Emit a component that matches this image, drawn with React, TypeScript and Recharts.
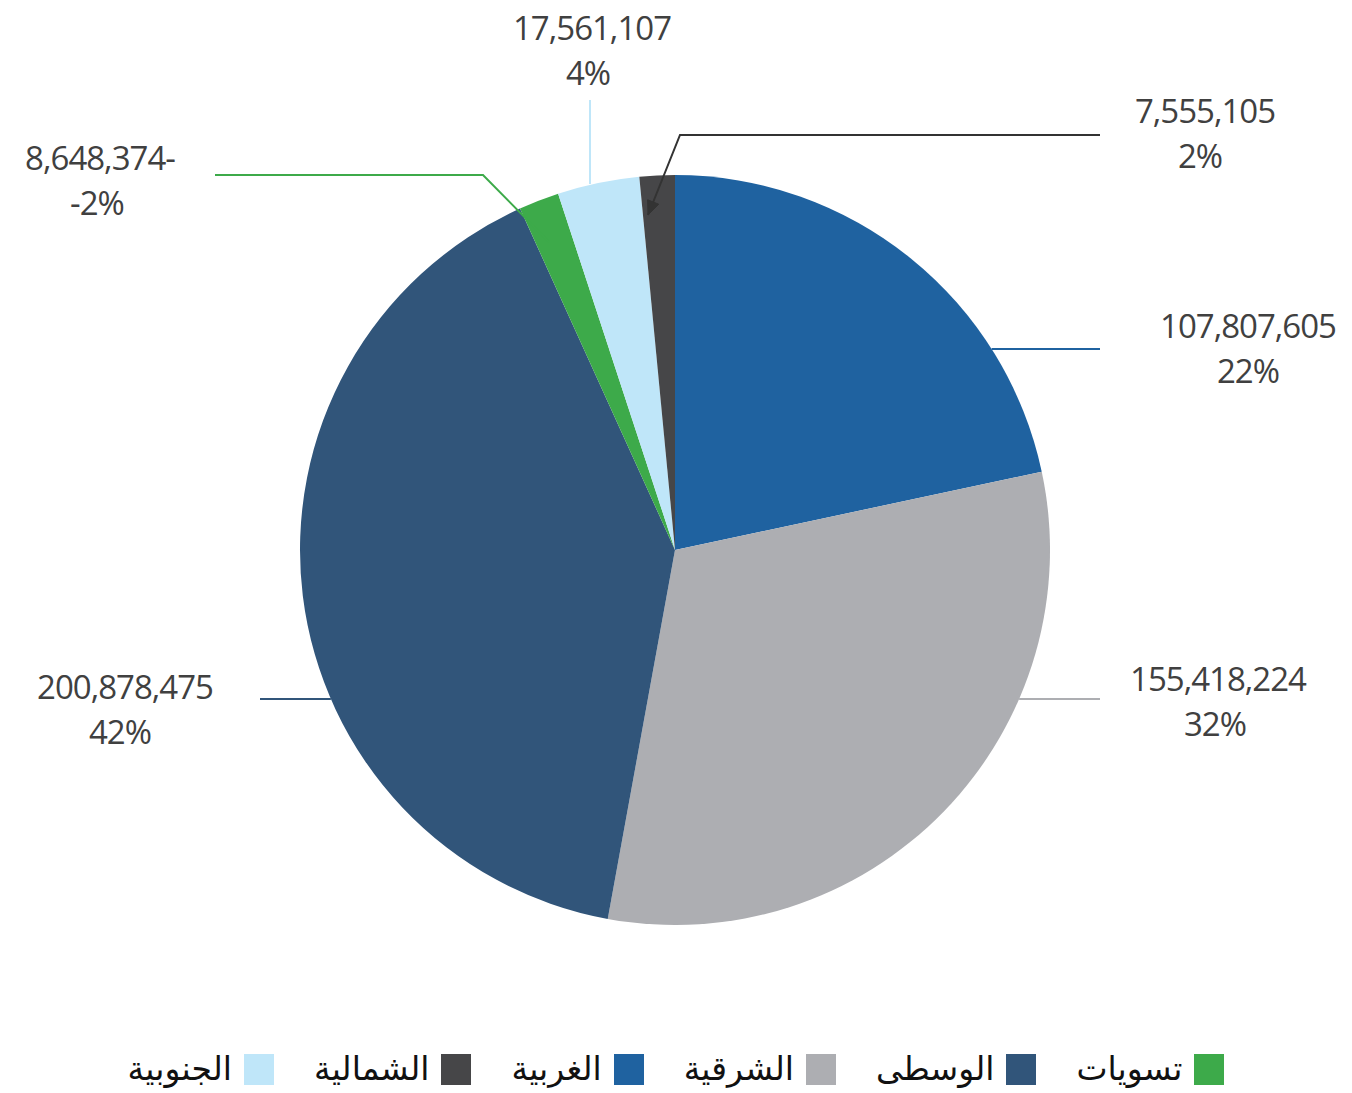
import React from "react";
import { PieChart, Pie, Cell, Legend } from "recharts";

// ---- data ----
const regions = ["الغربية", "الشرقية", "الوسطى", "تسويات", "الجنوبية", "الشمالية"];
const values = [107807605, 155418224, 200878475, -8648374, 17561107, 7555105];
const colors = ["#1F62A0", "#ADAEB2", "#31557A", "#3DAA4A", "#BFE6F9", "#464648"];
const lineColors = ["#1F62A0", "#ADAEB2", "#31557A", "#3DAA4A", "#BFE6F9", "#333333"];
const legendOrder = [3, 2, 1, 0, 5, 4];

const netTotal = values.reduce((a, b) => a + b, 0);
const data = regions.map((name, i) => ({ name, value: Math.abs(values[i]), signed: values[i] }));

// label layout relative to pie centre (style only)
type Layout = {
  edge?: { dy: number; side: 1 | -1; toX: number };
  pts?: [number, number][];
  arrow?: boolean;
  text: [number, number];
  dx2?: number;
};
const labelLayout: Layout[] = [
  { edge: { dy: -201, side: 1, toX: 425 }, text: [573, -225], dx2: 0 },
  { edge: { dy: 149, side: 1, toX: 425 }, text: [543, 128], dx2: -3 },
  { edge: { dy: 149, side: -1, toX: -415 }, text: [-550, 136], dx2: -5 },
  { pts: [[-126, -308], [-192, -375], [-460, -375]], text: [-575, -393], dx2: -3 },
  { pts: [[-85, -366], [-85, -450]], text: [-83, -523], dx2: -4 },
  { pts: [[-27, -335], [5, -415], [425, -415]], arrow: true, text: [530, -440], dx2: -5 },
];

const fmt = (v: number) => {
  const s = Math.abs(v).toLocaleString("en-US");
  return v < 0 ? s + "-" : s;
};
const pct = (v: number) => `${Math.round((v / netTotal) * 100)}%`;

const renderLabel = (props: any) => {
  const { cx, cy, outerRadius, index } = props;
  const L = labelLayout[index];
  const r = outerRadius;
  let pts: [number, number][] = [];
  if (L.edge) {
    const { dy, side, toX } = L.edge;
    const ex = side * Math.sqrt(r * r - dy * dy);
    pts = [[cx + ex, cy + dy], [cx + toX, cy + dy]];
  } else if (L.pts) {
    pts = L.pts.map(([x, y]) => [cx + x, cy + y] as [number, number]);
  }
  const d = pts.map((p, i) => `${i === 0 ? "M" : "L"}${p[0]},${p[1]}`).join(" ");
  let arrow: React.ReactNode = null;
  if (L.arrow && pts.length > 1) {
    const [x0, y0] = pts[0];
    const [x1, y1] = pts[1];
    const ang = Math.atan2(y0 - y1, x0 - x1);
    const len = 14, w = 6;
    const bx = x0 - len * Math.cos(ang), by = y0 - len * Math.sin(ang);
    const px = -Math.sin(ang) * w, py = Math.cos(ang) * w;
    arrow = (
      <path
        d={`M${bx + px},${by + py} L${x0},${y0} L${bx - px},${by - py} Z`}
        fill={lineColors[index]}
        stroke={lineColors[index]}
        strokeWidth={1}
      />
    );
  }
  const v = values[index];
  const tx = cx + L.text[0];
  const ty = cy + L.text[1];
  return (
    <g key={`lbl-${index}`}>
      <path d={d} fill="none" stroke={lineColors[index]} strokeWidth={2} />
      {arrow}
      <text
        x={tx}
        y={ty}
        textAnchor="middle"
        dominantBaseline="central"
        fill="#404040"
        fontSize={33}
        letterSpacing={-1}
        fontFamily="'Open Sans', 'Noto Sans', sans-serif"
      >
        {fmt(v)}
      </text>
      <text
        x={tx + (L.dx2 || 0)}
        y={ty + 45}
        textAnchor="middle"
        dominantBaseline="central"
        fill="#404040"
        fontSize={33}
        letterSpacing={-1}
        fontFamily="'Open Sans', 'Noto Sans', sans-serif"
      >
        {pct(v)}
      </text>
    </g>
  );
};

const LegendContent = () => (
  <div
    style={{
      display: "flex",
      flexDirection: "row-reverse",
      justifyContent: "center",
      alignItems: "center",
      gap: 40,
      fontFamily: "'DejaVu Sans', sans-serif",
      fontSize: 33,
      color: "#111",
    }}
  >
    {legendOrder.map((i) => (
      <div key={i} style={{ display: "flex", flexDirection: "row-reverse", alignItems: "center", gap: 12 }}>
        <div style={{ width: 30, height: 31, background: colors[i] }} />
        <span style={{ direction: "rtl", lineHeight: "40px" }}>{regions[i]}</span>
      </div>
    ))}
  </div>
);

export default function App() {
  return (
    <div style={{ position: "absolute", left: 0, top: 0, background: "#fff" }}>
      <PieChart width={1352} height={1093} margin={{ top: 0, right: 0, bottom: 0, left: 0 }}>
        <Pie
          data={data}
          dataKey="value"
          nameKey="name"
          cx={675}
          cy={550}
          outerRadius={375}
          startAngle={90}
          endAngle={-270}
          stroke="none"
          isAnimationActive={false}
          labelLine={false}
          label={renderLabel}
        >
          {data.map((_, i) => (
            <Cell key={i} fill={colors[i]} />
          ))}
        </Pie>
        <Legend
          content={<LegendContent />}
          wrapperStyle={{ position: "absolute", left: 0, top: 1049, width: 1352 }}
        />
      </PieChart>
    </div>
  );
}
